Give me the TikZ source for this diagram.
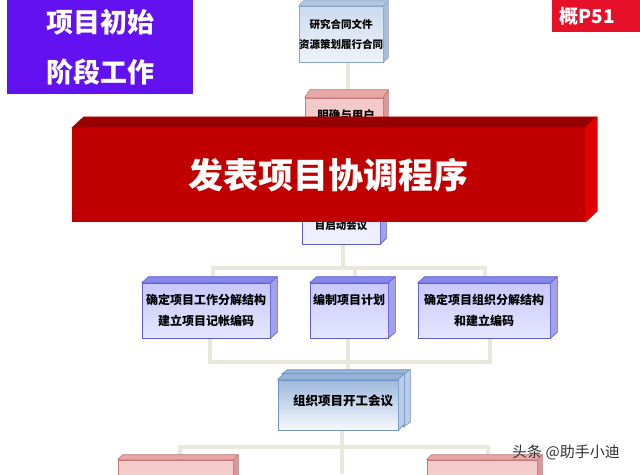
\documentclass[tikz,border=0pt]{standalone}
\usepackage{fontspec}
\setmainfont{Noto Sans CJK SC}
\usetikzlibrary{calc}
\definecolor{conncol}{RGB}{234,231,220}
\definecolor{lavfront}{RGB}{200,200,255}
\definecolor{lavbot}{RGB}{230,230,255}
\definecolor{lavtop}{RGB}{135,135,240}
\definecolor{lavside}{RGB}{160,160,235}
\definecolor{lavdraw}{RGB}{95,95,205}
\definecolor{bluefront}{RGB}{205,218,238}
\definecolor{bluebot}{RGB}{238,243,250}
\definecolor{bluetop}{RGB}{180,200,228}
\definecolor{blueside}{RGB}{170,190,220}
\definecolor{bluedraw}{RGB}{140,165,205}
\definecolor{kfront}{RGB}{158,185,222}
\definecolor{kbot}{RGB}{246,249,253}
\definecolor{ktop}{RGB}{150,180,218}
\definecolor{kside}{RGB}{185,205,232}
\definecolor{kdraw}{RGB}{115,148,195}
\definecolor{pinkfront}{RGB}{243,200,200}
\definecolor{pinktop}{RGB}{232,168,168}
\definecolor{pinkside}{RGB}{218,152,152}
\definecolor{pinkdraw}{RGB}{192,122,122}
\definecolor{bfront}{RGB}{192,0,0}
\definecolor{btop}{RGB}{150,0,0}
\definecolor{bside}{RGB}{226,0,0}
\definecolor{purplebox}{RGB}{98,18,240}
\definecolor{redlabel}{RGB}{230,16,40}
\newcommand\boxsides[6]{%
  \filldraw[fill=#4,draw=#6,line width=0.6pt,line join=round] (#1.north west) -- ++(#2,-#3) -- ($(#1.north east)+(#2,-#3)$) -- (#1.north east) -- cycle;
  \filldraw[fill=#5,draw=#6,line width=0.6pt,line join=round] (#1.north east) -- ++(#2,-#3) -- ($(#1.south east)+(#2,-#3)$) -- (#1.south east) -- cycle;}
\tikzset{
  conn/.style={draw=conncol,line width=4pt},
  front/.style={draw,inner sep=0pt,line width=0.6pt,align=center,font=\bfseries\fontsize{12}{21}\selectfont},
  lavbox/.style={front,draw=lavdraw,top color=lavfront,bottom color=lavbot},
  bluebox/.style={front,draw=bluedraw,top color=bluefront,bottom color=bluebot},
  kbox/.style={front,draw=kdraw,top color=kfront,bottom color=kbot},
  pinkbox/.style={front,draw=pinkdraw,top color=pinkfront,bottom color=pinkfront!70!white},
  lbl/.style={inner sep=0pt,font=\bfseries\fontsize{10.5}{20}\selectfont,align=center}
}
\begin{document}
\begin{tikzpicture}[x=1pt,y=-1pt]
\useasboundingbox (0,0) rectangle (640,474);
\fill[white] (0,0) rectangle (640,474);

% nodes (front faces)
\node[bluebox,minimum width=76pt,minimum height=56pt,font=\bfseries\fontsize{10.5}{20}\selectfont] (topbox) at (341,34) {研究合同文件\\资源策划履行合同};
\node[pinkbox,minimum width=78pt,minimum height=72pt] (pinkbox) at (344,134) {};
\node[lavbox,top color=lavbot,bottom color=lavbot!60!white,minimum width=78pt,minimum height=69pt] (bluebox) at (341,209.5) {};
\node[lavbox,minimum width=128pt,minimum height=55pt] (rowL) at (206,310.5) {确定项目工作分解结构\\建立项目记帐编码};
\node[lavbox,minimum width=78pt,minimum height=55pt] (rowM) at (349,310.5) {编制项目计划\\\phantom{编}};
\node[lavbox,minimum width=132pt,minimum height=55pt] (rowR) at (484,310.5) {确定项目组织分解结构\\和建立编码};
\node[kbox,minimum width=122pt,minimum height=52pt] (kickB) at (343,400) {};
\node[kbox,minimum width=120pt,minimum height=50pt] (kick) at (338,405) {};
\node[pinkbox,minimum width=115pt,minimum height=40pt] (pinkL) at (175.5,480) {};
\node[pinkbox,minimum width=110pt,minimum height=40pt] (pinkR) at (482,480) {};

% connectors
\coordinate (j0) at (348,0);
\draw[conn] (topbox.south -| j0) -- (pinkbox.north -| j0);
\coordinate (j1) at (343,268);
\coordinate (d1) at (213,0);
\coordinate (d2) at (355,0);
\coordinate (d3) at (485,0);
\draw[conn] (bluebox.south -| j1) -- (j1);
\draw[conn] (rowL.north -| d1) |- (j1) -| (rowR.north -| d3);
\draw[conn] (rowM.north -| d2) -- (d2 |- j1);
\coordinate (j2) at (348,362);
\coordinate (e1) at (210,0);
\coordinate (e3) at (490,0);
\draw[conn] (rowL.south -| e1) |- (j2) -| (rowR.south -| e3);
\draw[conn] (rowM.south -| j2) -- (kickB.north -| j2);
\coordinate (j3) at (342,447);
\coordinate (f1) at (180,0);
\coordinate (f3) at (488,0);
\coordinate (endc) at (342,474);
\draw[conn] (kick.south -| j3) -- (endc);
\draw[conn] (pinkL.north -| f1) |- (j3) -| (pinkR.north -| f3);

% redraw fronts over connectors, then sides
\node[bluebox,minimum width=76pt,minimum height=56pt,font=\bfseries\fontsize{10.5}{20}\selectfont] at (topbox) {研究合同文件\\资源策划履行合同};
\boxsides{topbox}{5}{5}{bluetop}{blueside}{bluedraw}
\node[pinkbox,minimum width=78pt,minimum height=72pt] at (pinkbox) {};
\boxsides{pinkbox}{5}{8}{pinktop}{pinkside}{pinkdraw}
\node[lbl,font=\bfseries\fontsize{11.5}{20}\selectfont] (pinktxt) at (346,115) {明确与用户};
\node[lavbox,top color=lavbot,bottom color=lavbot!60!white,minimum width=78pt,minimum height=69pt] at (bluebox) {};
\boxsides{bluebox}{6}{6}{lavside}{lavside}{lavdraw}
\node[lbl] (bluetxt) at (341,226) {目启动会议};
\node[lavbox,minimum width=128pt,minimum height=55pt] at (rowL) {确定项目工作分解结构\\建立项目记帐编码};
\boxsides{rowL}{7}{6}{lavtop}{lavside}{lavdraw}
\node[lavbox,minimum width=78pt,minimum height=55pt] at (rowM) {编制项目计划\\\phantom{编}};
\boxsides{rowM}{7}{6}{lavtop}{lavside}{lavdraw}
\node[lavbox,minimum width=132pt,minimum height=55pt] at (rowR) {确定项目组织分解结构\\和建立编码};
\boxsides{rowR}{7}{6}{lavtop}{lavside}{lavdraw}
\node[kbox,minimum width=122pt,minimum height=52pt] at (kickB) {};
\boxsides{kickB}{6}{4}{ktop}{kside}{kdraw}
\node[kbox,minimum width=120pt,minimum height=50pt] at (kick) {};
\boxsides{kick}{6}{6}{ktop}{kside}{kdraw}
\node[lbl,font=\bfseries\fontsize{12.5}{20}\selectfont] (kicktxt) at (343,401) {组织项目开工会议};
\node[pinkbox,minimum width=115pt,minimum height=40pt] at (pinkL) {};
\boxsides{pinkL}{5}{5}{pinktop}{pinkside}{pinkdraw}
\node[pinkbox,minimum width=110pt,minimum height=40pt] at (pinkR) {};
\boxsides{pinkR}{5}{5}{pinktop}{pinkside}{pinkdraw}

% banner
\node[fill=bfront,inner sep=0pt,minimum width=513pt,minimum height=94pt,text=white,font=\bfseries\fontsize{35}{40}\selectfont] (banner) at (328.5,175) {发表项目协调程序};
\boxsides{banner}{12}{11}{btop}{bside}{bside}

% corner labels
\node[fill=purplebox,inner sep=0pt,minimum width=186pt,minimum height=94pt] (stage) at (100,47) {};
\node[lbl,text=white,font=\bfseries\fontsize{27}{50}\selectfont] (stagetxt) at (100,47) {项目初始\\阶段工作};
\node[fill=redlabel,inner sep=0pt,minimum width=88pt,minimum height=32pt] (page) at (596,16) {};
\node[inner sep=0pt,text=white,font=\bfseries\fontsize{19}{22}\selectfont] (pagetxt) at (587,16) {概P51};
\node[inner sep=0pt,text=black!80,font=\fontsize{15}{17}\selectfont] (wm) at (566,452) {头条 @助手小迪};
\end{tikzpicture}
\end{document}
